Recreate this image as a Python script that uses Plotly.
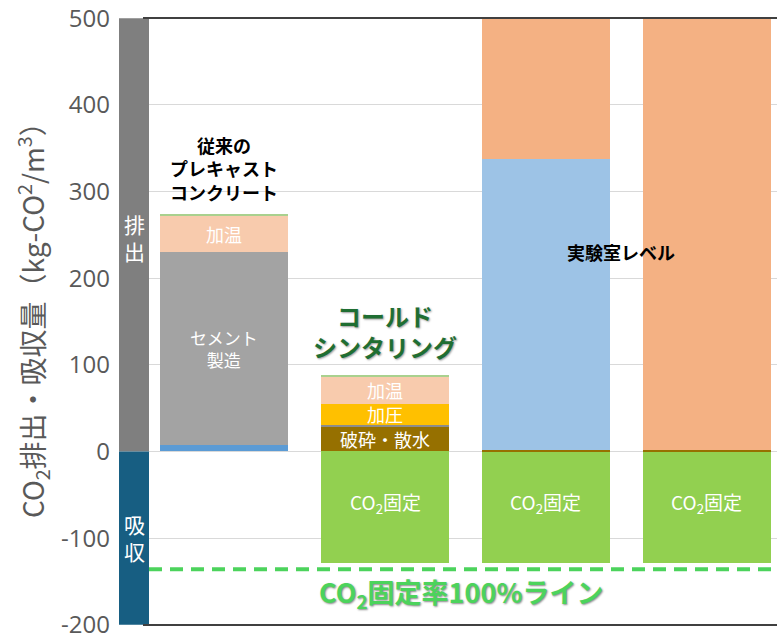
import plotly.graph_objects as go

# ---- data ----
categories = [0, 1, 2, 3]
co2_fix = [0, -129, -129, -129]          # CO2固定 (absorption)
crush_water = [0, 29, 2, 1.5]            # 破砕・散水
base_blue = [8, 0, 0, 0]                 # small blue base of conventional
cement = [222, 0, 0, 0]                  # セメント製造
separator = [0, 1.5, 0, 0]               # thin gray line
pressure = [0, 24.5, 0, 0]               # 加圧
lab_blue = [0, 0, 335, 0]                # 実験室レベル (blue part)
heating = [42, 32, 0, 0]                 # 加温
lab_orange = [0, 0, 300, 600]            # 実験室レベル (orange part, clipped)
top_line = [1.2, 1.2, 0, 0]
fix_line = -136                          # CO2固定率100%ライン
tick_vals = [-200, -100, 0, 100, 200, 300, 400, 500]
tick_text = ["-200", "-100", "0", "100", "200", "300", "400", "500"]

JP = "Noto Sans CJK JP"
fig = go.Figure()

def add(vals, color):
    fig.add_trace(go.Bar(x=categories, y=vals, marker=dict(color=color, line=dict(width=0)),
                         width=0.795, showlegend=False, hoverinfo="skip"))

add(co2_fix, "#92D050")
add(crush_water, "#967000")
add(base_blue, "#5B9BD5")
add(cement, "#A3A3A3")
add(separator, "#8C8C8C")
add(pressure, "#FFC000")
add(lab_blue, "#9DC3E6")
add(heating, "#F8CBAD")
add(lab_orange, "#F4B183")
add(top_line, "#A9D18E")

fig.update_layout(
    barmode="relative",
    width=777, height=634,
    margin=dict(l=149, r=0, t=18, b=9, autoexpand=False),
    plot_bgcolor="white", paper_bgcolor="white",
    bargap=0,
    xaxis=dict(range=[-0.466, 3.435], showticklabels=False, showgrid=False,
               zeroline=False, showline=False, fixedrange=True, automargin=False),
    yaxis=dict(range=[-200.3, 500.3], tickvals=tick_vals, ticktext=tick_text,
               showgrid=True, gridcolor="#D9D9D9", gridwidth=1, zeroline=False,
               showline=False, ticks="", ticklabelstandoff=38, ticklabeloverflow="allow",
               automargin=False,
               tickfont=dict(family="Open Sans", size=24, color="#595959")),
)

PW = 628.0
# left band
fig.add_shape(type="rect", xref="paper", yref="y", x0=-30/PW, x1=0, y0=0, y1=500,
              fillcolor="#7F7F7F", line=dict(width=0), layer="above")
fig.add_shape(type="rect", xref="paper", yref="y", x0=-30/PW, x1=0, y0=-200, y1=0,
              fillcolor="#175E82", line=dict(width=0), layer="above")
# top / bottom frame lines
for yy in (0, 1):
    fig.add_shape(type="line", xref="paper", yref="paper", x0=-6/PW, x1=1, y0=yy, y1=yy,
                  line=dict(color="#404040", width=2), layer="above")
# dashed 100% line
fig.add_shape(type="line", xref="paper", yref="y", x0=0, x1=1, y0=fix_line, y1=fix_line,
              line=dict(color="#4CD35C", width=4, dash="13px,8px"), layer="above")

def ann(x, y, text, size=18, color="white", xref="x", yref="y", **kw):
    font = dict(family=JP, size=size, color=color)
    font.update(kw.pop("font", {}))
    kw.setdefault("xanchor", "center")
    kw.setdefault("yanchor", "middle")
    fig.add_annotation(x=x, y=y, xref=xref, yref=yref, text=text, showarrow=False,
                       font=font, **kw)

ann(-15/PW, 247, "排<br>出", size=21, xref="paper")
ann(-15/PW, -99, "吸<br>収", size=21, xref="paper")

# bar 1 labels
ann(0, base_blue[0] + cement[0] + heating[0] / 2, "加温")
ann(0, base_blue[0] + cement[0] / 2, "セメント<br>製造", size=17)
ann(0, base_blue[0] + cement[0] + heating[0] + 10, "従来の<br>プレキャスト<br>コンクリート",
    color="black", yanchor="bottom", font=dict(weight="bold"))

# bar 2 labels
b2 = crush_water[1] + separator[1] + pressure[1]
ann(1, b2 + heating[1] / 2, "加温")
ann(1, crush_water[1] + separator[1] + pressure[1] / 2, "加圧")
ann(1, crush_water[1] / 2, "破砕・散水")
ann(1, b2 + heating[1] + 12, "コールド<br>シンタリング", size=24, color="#1F6E32",
    yanchor="bottom", font=dict(weight="bold", shadow="1px 1px 2px #9a9a9a"))

ann(2.466, 230, "実験室レベル", color="black", font=dict(weight="bold"))

for c in categories[1:]:
    ann(c, -60, "CO<sub>2</sub>固定", size=19)

ann(1.47, -163, "CO<sub>2</sub>固定率100%ライン", size=27, color="#4CD35C",
    font=dict(weight="bold", shadow="1px 1px 2px #8a8a8a"))

# y-axis title
ann(-117/PW, 0.514, "CO<sub>2</sub>排出・吸収量（kg-CO<sup>2</sup>/m<sup>3</sup>）", size=28,
    color="#595959", xref="paper", yref="paper", textangle=-90)

fig.write_html("out.html")
